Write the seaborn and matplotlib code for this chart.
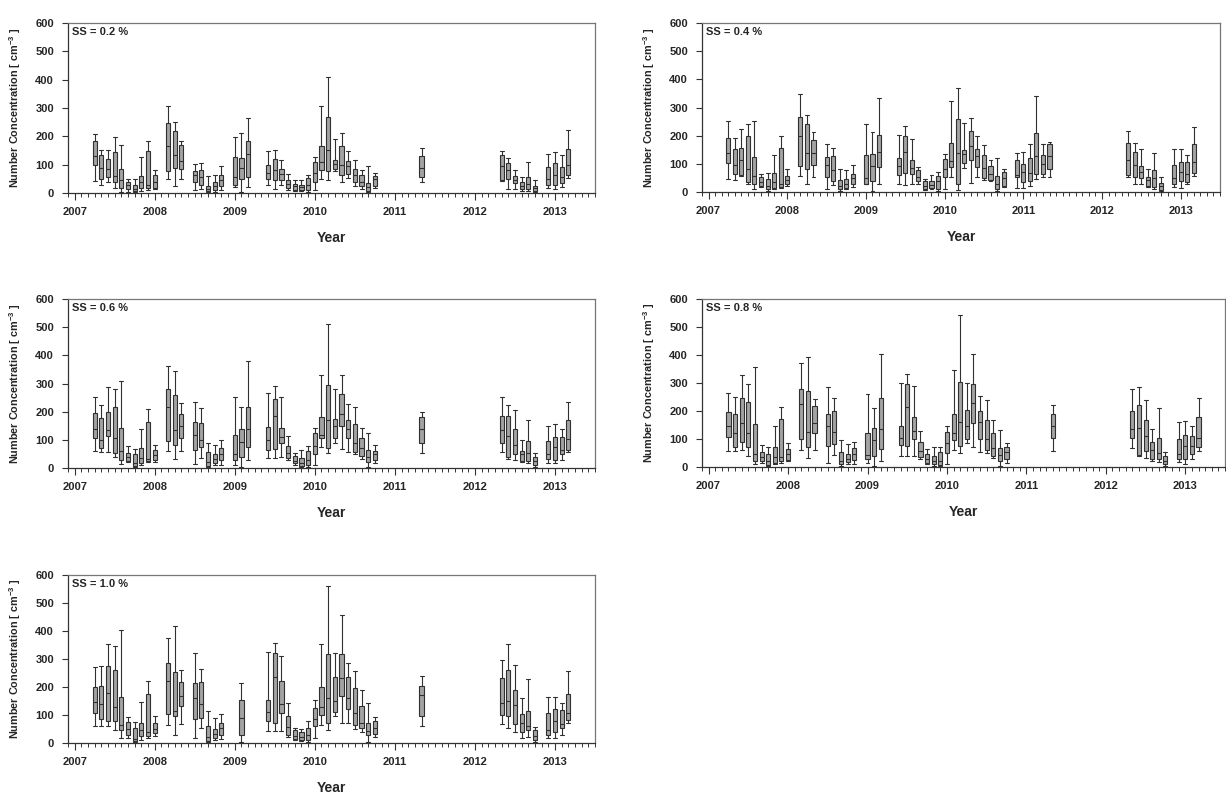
import numpy as np
import pandas as pd
import matplotlib
matplotlib.use("Agg")
import matplotlib.pyplot as plt
import seaborn as sns
from matplotlib.ticker import FixedLocator

# ---------------- data ----------------
# months with data (YYYY-MM)
months_a = ["2007-04", "2007-05", "2007-06", "2007-07", "2007-08", "2007-09", "2007-10",
            "2007-11", "2007-12", "2008-01",
            "2008-03", "2008-04", "2008-05",
            "2008-07", "2008-08", "2008-09", "2008-10", "2008-11",
            "2009-01", "2009-02", "2009-03",
            "2009-06", "2009-07", "2009-08", "2009-09", "2009-10", "2009-11", "2009-12",
            "2010-01", "2010-02", "2010-03", "2010-04", "2010-05", "2010-06", "2010-07",
            "2010-08", "2010-09", "2010-10",
            "2011-05",
            "2012-05", "2012-06", "2012-07", "2012-08", "2012-09", "2012-10",
            "2012-12", "2013-01", "2013-02", "2013-03"]
months_b = months_a[:38] + ["2010-12", "2011-01", "2011-02", "2011-03", "2011-04", "2011-05"] + months_a[39:]
months_c = months_a[:18] + ["2009-02"] + months_a[21:]

# monthly box statistics: (whisker low, Q1, median, Q3, whisker high)
ss02 = [(44, 100, 132, 185, 208), (30, 50, 88, 135, 152), (38, 55, 85, 120, 152), (18, 40, 60, 145, 196),
        (5, 18, 45, 85, 170), (5, 14, 28, 38, 50), (2, 6, 15, 29, 50), (8, 18, 40, 60, 126),
        (12, 18, 30, 147, 182), (14, 18, 40, 62, 80),
        (50, 78, 167, 248, 308), (25, 88, 135, 220, 249), (50, 85, 112, 168, 183),
        (12, 38, 62, 78, 102), (14, 30, 56, 82, 106), (2, 6, 14, 24, 60), (5, 10, 24, 38, 62), (12, 26, 45, 62, 94),
        (20, 30, 55, 128, 196), (2, 48, 88, 125, 212), (20, 55, 138, 182, 263),
        (27, 48, 70, 100, 150), (15, 45, 82, 120, 153), (30, 45, 68, 85, 115), (12, 16, 32, 47, 67),
        (6, 12, 24, 33, 45), (6, 12, 20, 30, 45), (2, 10, 28, 52, 62),
        (12, 38, 72, 110, 127), (50, 82, 110, 165, 308), (47, 76, 153, 267, 410), (78, 84, 103, 118, 190),
        (38, 65, 100, 165, 212), (53, 67, 95, 112, 147), (25, 38, 63, 85, 117), (14, 26, 40, 65, 82),
        (2, 8, 22, 35, 97), (18, 26, 48, 61, 72),
        (38, 55, 88, 132, 160),
        (42, 45, 95, 135, 150), (14, 48, 80, 105, 125), (15, 35, 47, 60, 82), (8, 14, 24, 40, 57),
        (6, 14, 32, 56, 108), (2, 8, 16, 26, 45),
        (18, 30, 50, 92, 137), (14, 28, 62, 105, 143), (20, 35, 58, 92, 133), (52, 62, 98, 155, 222)]

ss04 = [(47, 102, 140, 192, 253), (42, 65, 95, 153, 190), (57, 60, 114, 155, 223), (27, 35, 80, 198, 240),
        (11, 30, 58, 125, 253), (17, 22, 35, 55, 63), (5, 11, 22, 45, 66), (10, 14, 35, 68, 133),
        (14, 17, 27, 155, 200), (20, 27, 42, 58, 80),
        (57, 92, 198, 268, 348), (30, 82, 137, 242, 273), (55, 95, 137, 185, 213),
        (12, 52, 95, 123, 170), (25, 38, 78, 128, 156), (5, 10, 22, 42, 81), (10, 14, 28, 45, 78), (18, 28, 50, 65, 96),
        (27, 30, 50, 132, 240), (5, 38, 92, 135, 213), (30, 90, 142, 202, 332),
        (30, 62, 92, 122, 204), (25, 68, 142, 200, 235), (30, 65, 85, 113, 188), (27, 38, 55, 77, 88),
        (8, 11, 20, 38, 45), (10, 13, 25, 38, 60), (2, 10, 38, 58, 70),
        (12, 55, 80, 118, 135), (55, 90, 110, 175, 324), (8, 27, 140, 260, 370), (85, 102, 135, 150, 246),
        (33, 115, 165, 218, 264), (52, 88, 128, 152, 200), (42, 50, 85, 130, 168), (38, 42, 65, 92, 113),
        (5, 10, 30, 58, 121), (18, 22, 48, 70, 82),
        (14, 55, 62, 113, 140), (14, 35, 70, 98, 143), (20, 40, 68, 122, 172), (45, 65, 128, 208, 341),
        (52, 65, 100, 130, 170), (52, 82, 128, 172, 178),
        (52, 60, 112, 175, 217), (28, 52, 95, 143, 175), (28, 48, 70, 93, 152), (18, 22, 42, 55, 80),
        (10, 18, 50, 78, 137), (2, 8, 20, 32, 52),
        (18, 28, 50, 95, 153), (15, 38, 70, 108, 153), (28, 35, 65, 105, 132), (58, 68, 105, 172, 230)]

ss06 = [(60, 108, 140, 195, 253), (57, 70, 100, 178, 224), (57, 112, 135, 198, 289), (38, 55, 108, 218, 280),
        (14, 30, 60, 143, 310), (20, 25, 40, 55, 77), (2, 8, 18, 50, 68), (10, 18, 35, 70, 138),
        (20, 24, 32, 165, 208), (22, 27, 45, 65, 83),
        (60, 95, 215, 280, 362), (32, 80, 135, 260, 345), (60, 105, 148, 190, 232),
        (15, 65, 118, 162, 235), (35, 75, 100, 160, 212), (3, 8, 22, 58, 88), (12, 18, 32, 50, 83), (12, 30, 50, 72, 98),
        (12, 30, 48, 118, 252), (5, 40, 92, 140, 215), (28, 75, 140, 215, 380),
        (35, 65, 100, 145, 265), (35, 68, 185, 245, 290), (40, 90, 110, 143, 253), (30, 36, 55, 78, 112),
        (12, 18, 24, 42, 53), (5, 8, 18, 36, 65), (5, 12, 30, 60, 78),
        (12, 48, 78, 125, 142), (75, 105, 118, 180, 330), (52, 72, 170, 295, 512), (90, 108, 150, 175, 280),
        (68, 150, 190, 262, 330), (58, 105, 140, 170, 227), (48, 58, 90, 155, 215), (32, 42, 70, 105, 143),
        (5, 22, 38, 65, 125), (18, 30, 48, 62, 83),
        (55, 88, 138, 182, 200),
        (58, 90, 135, 185, 253), (32, 38, 115, 183, 225), (28, 48, 82, 137, 205), (20, 25, 50, 60, 98),
        (18, 25, 52, 95, 172), (3, 12, 25, 38, 53),
        (18, 32, 50, 95, 150), (18, 30, 75, 110, 157), (30, 48, 65, 110, 140), (58, 65, 102, 172, 235)]

ss08 = [(58, 108, 145, 195, 265), (57, 70, 120, 190, 250), (62, 90, 158, 248, 327), (40, 72, 120, 232, 297),
        (12, 22, 48, 155, 357), (15, 22, 35, 52, 78), (3, 7, 20, 48, 70), (10, 16, 35, 70, 145),
        (15, 22, 35, 170, 215), (22, 25, 45, 65, 85),
        (62, 100, 225, 280, 372), (32, 72, 125, 272, 392), (62, 120, 158, 218, 242),
        (15, 75, 145, 190, 285), (42, 82, 125, 200, 245), (3, 10, 22, 55, 97), (12, 18, 30, 45, 82), (12, 25, 48, 68, 90),
        (15, 28, 42, 123, 260), (5, 40, 95, 140, 210), (20, 65, 135, 248, 402),
        (38, 80, 105, 148, 300), (38, 75, 213, 295, 333), (40, 100, 130, 180, 288), (28, 35, 58, 88, 130),
        (12, 16, 28, 45, 63), (5, 10, 20, 40, 70), (3, 8, 22, 55, 70),
        (12, 50, 85, 125, 147), (62, 95, 120, 188, 347), (50, 75, 160, 305, 543), (85, 100, 148, 205, 300),
        (70, 158, 228, 295, 402), (55, 100, 160, 200, 255), (50, 62, 100, 168, 240), (32, 40, 68, 120, 168),
        (5, 22, 42, 68, 133), (15, 28, 55, 72, 85),
        (58, 102, 145, 190, 220),
        (68, 105, 135, 200, 278), (38, 42, 140, 220, 285), (32, 58, 110, 168, 240), (20, 30, 62, 90, 137),
        (18, 28, 50, 105, 210), (3, 10, 22, 40, 55),
        (18, 30, 48, 100, 162), (12, 28, 75, 115, 165), (28, 45, 75, 112, 145), (58, 70, 105, 178, 245)]

ss10 = [(60, 108, 148, 200, 270), (60, 85, 138, 205, 275), (60, 80, 180, 275, 355), (45, 80, 128, 260, 345),
        (18, 45, 65, 165, 402), (18, 28, 50, 75, 93), (3, 8, 15, 52, 75), (12, 25, 45, 72, 148),
        (18, 25, 38, 175, 220), (25, 35, 50, 72, 95),
        (65, 105, 222, 285, 375), (30, 95, 115, 255, 418), (68, 132, 168, 218, 260),
        (18, 85, 160, 215, 320), (52, 88, 138, 218, 265), (3, 8, 22, 62, 115), (12, 18, 32, 50, 88), (15, 30, 55, 72, 103),
        (3, 30, 90, 152, 215),
        (42, 80, 112, 152, 325), (42, 72, 235, 320, 358), (42, 108, 140, 220, 312), (20, 28, 58, 95, 143),
        (12, 16, 25, 45, 52), (8, 12, 22, 38, 50), (5, 12, 28, 55, 77),
        (18, 62, 85, 125, 153), (65, 100, 130, 200, 353), (47, 73, 162, 318, 560), (98, 110, 150, 235, 320),
        (72, 168, 232, 318, 458), (72, 120, 160, 235, 287), (50, 65, 108, 195, 258), (40, 52, 72, 132, 188),
        (3, 28, 42, 72, 142), (20, 32, 55, 78, 92),
        (62, 98, 170, 202, 238),
        (68, 100, 142, 232, 295), (52, 98, 150, 262, 355), (38, 68, 135, 190, 280), (18, 38, 72, 102, 160),
        (20, 48, 62, 115, 230), (3, 10, 25, 45, 58),
        (18, 28, 48, 108, 165), (18, 40, 78, 120, 165), (30, 55, 68, 118, 143), (70, 82, 108, 175, 257)]

panel_labels = ["SS = 0.2 %", "SS = 0.4 %", "SS = 0.6 %", "SS = 0.8 %", "SS = 1.0 %"]
year_ticks = [2007, 2008, 2009, 2010, 2011, 2012, 2013]
y_ticks = [0, 100, 200, 300, 400, 500, 600]

panels = [(months_a, ss02), (months_b, ss04), (months_a, ss06), (months_a, ss08), (months_c, ss10)]


def to_frame(months, stats):
    rows = []
    for m, st in zip(months, stats):
        yr, mo = m.split("-")
        t = int(yr) + (int(mo) - 1) / 12.0
        for v in st:
            rows.append((t, v))
    return pd.DataFrame(rows, columns=["t", "value"])


# ---------------- style ----------------
sns.set_style("ticks")
plt.rcParams["font.family"] = ["Liberation Sans", "DejaVu Sans"]
plt.rcParams["font.weight"] = "bold"
plt.rcParams["mathtext.fontset"] = "custom"
plt.rcParams["mathtext.rm"] = "Liberation Sans:bold"
plt.rcParams["mathtext.it"] = "Liberation Sans:bold"
plt.rcParams["mathtext.bf"] = "Liberation Sans:bold"

W, H = 1226, 799
fig = plt.figure(figsize=(W / 100, H / 100), dpi=100)
fig.patch.set_facecolor("white")

# pixel boxes (left, right, top, bottom)
boxes = [(68, 595, 23, 193), (702, 1220, 23, 192),
         (68, 595, 299, 468), (702, 1225, 299, 467),
         (68, 595, 575, 743)]

for i, ((months, stats), (l, r, t, b)) in enumerate(zip(panels, boxes)):
    ax = fig.add_axes([l / W, 1 - b / H, (r - l) / W, (b - t) / H])
    df = to_frame(months, stats)
    sns.boxplot(data=df, x="t", y="value", native_scale=True, whis=(0, 100),
                width=0.62, color="#a3a3a3", linecolor="#303030", linewidth=0.8,
                fliersize=0, capwidths=0.05, ax=ax)
    ax.set_xlim(2007 - 1 / 12, 2013.5)
    ax.set_ylim(0, 600)
    ax.xaxis.set_major_locator(FixedLocator(year_ticks))
    ax.set_xticklabels([str(y) for y in year_ticks])
    ax.xaxis.set_minor_locator(FixedLocator(np.arange(2007 - 1 / 12, 2013.51, 1 / 12)))
    ax.yaxis.set_major_locator(FixedLocator(y_ticks))
    ax.set_yticklabels([str(v) for v in y_ticks])
    ax.tick_params(axis="x", which="major", direction="out", length=5, width=0.8,
                   labelsize=8, pad=5, color="#333333")
    ax.tick_params(axis="x", which="minor", direction="out", length=3, width=0.7, color="#333333")
    ax.tick_params(axis="y", which="major", direction="out", length=4, width=0.8,
                   labelsize=8, pad=6, color="#333333")
    for lab in ax.get_xticklabels() + ax.get_yticklabels():
        lab.set_fontweight("bold")
    for side in ["left", "bottom"]:
        ax.spines[side].set_color("#333333")
        ax.spines[side].set_linewidth(0.9)
    for side in ["top", "right"]:
        ax.spines[side].set_visible(True)
        ax.spines[side].set_color("#777777")
        ax.spines[side].set_linewidth(0.9)
    ax.set_xlabel("Year", fontsize=10, fontweight="bold")
    ax.set_ylabel(r"Number Concentration [ cm$^{-3}$ ]", fontsize=7.8, fontweight="bold")
    ax.xaxis.set_label_coords(0.5, -38 / (b - t))
    ax.yaxis.set_label_coords(-45 / (r - l), 0.5)
    ax.text(4 / (r - l), 1 - 9 / (b - t), panel_labels[i], transform=ax.transAxes,
            fontsize=8, fontweight="bold", ha="left", va="center")

fig.savefig("out.png", dpi=100, facecolor="white")
